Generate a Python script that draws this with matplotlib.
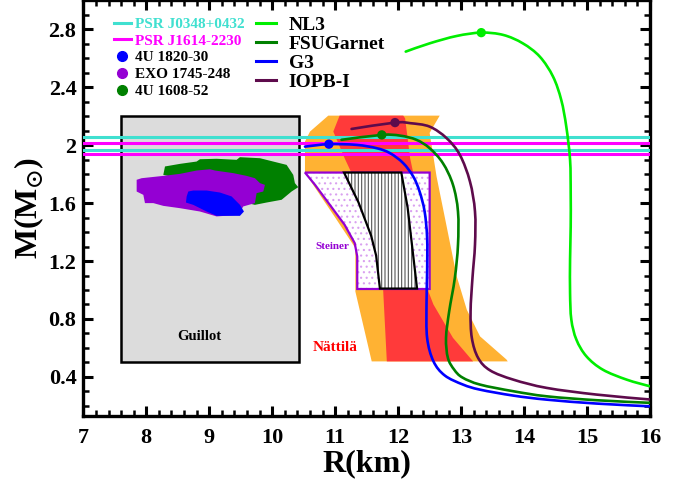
import matplotlib
matplotlib.use('Agg')
import matplotlib.pyplot as plt
from matplotlib.patches import Polygon, Rectangle, PathPatch
from matplotlib.path import Path
from matplotlib.lines import Line2D
from matplotlib.ticker import MultipleLocator, FixedLocator
import numpy as np

plt.rcParams['font.family'] = ['Liberation Serif', 'DejaVu Serif']
plt.rcParams['font.weight'] = 'bold'
plt.rcParams['axes.labelweight'] = 'bold'
plt.rcParams['mathtext.fontset'] = 'stix'
plt.rcParams['hatch.linewidth'] = 0.8

# ---------------- data ----------------
# M-R curves (R in km, M in solar masses)
nl3_R = [12.12, 12.50, 12.93, 13.32, 13.67, 13.98, 14.25, 14.46, 14.59, 14.67, 14.73, 14.74, 14.74,
         14.73, 14.73, 14.75, 14.83, 14.99, 15.25, 15.63, 16.0]
nl3_M = [2.646, 2.703, 2.754, 2.777, 2.761, 2.703, 2.611, 2.473, 2.312, 2.128, 1.899, 1.669, 1.439,
         1.210, 0.979, 0.796, 0.658, 0.542, 0.450, 0.381, 0.335]

fsu_R = [11.10, 11.74, 12.03, 12.29, 12.50, 12.71, 12.87, 12.95, 12.95, 12.90, 12.81, 12.76, 12.79,
         12.89, 13.02, 13.30, 13.83, 14.36, 15.15, 16.0]
fsu_M = [2.037, 2.071, 2.066, 2.037, 1.979, 1.876, 1.727, 1.542, 1.312, 1.083, 0.852, 0.669, 0.531,
         0.450, 0.396, 0.347, 0.301, 0.266, 0.239, 0.221]

g3_R = [10.52, 10.90, 11.34, 11.66, 11.87, 12.08, 12.24, 12.34, 12.42, 12.46, 12.46, 12.45, 12.46,
        12.56, 12.74, 13.03, 13.30, 13.83, 14.36, 15.15, 16.0]
g3_M = [1.990, 2.007, 2.002, 1.979, 1.945, 1.876, 1.783, 1.680, 1.542, 1.359, 1.128, 0.899, 0.669,
        0.508, 0.410, 0.347, 0.312, 0.271, 0.243, 0.216, 0.197]

iopb_R = [11.26, 11.95, 12.19, 12.50, 12.77, 12.98, 13.14, 13.22, 13.22, 13.18, 13.15, 13.17, 13.27,
          13.46, 13.83, 14.36, 15.15, 16.0]
iopb_M = [2.112, 2.156, 2.152, 2.128, 2.048, 1.933, 1.749, 1.542, 1.312, 1.083, 0.852, 0.669, 0.531,
          0.445, 0.381, 0.324, 0.278, 0.244]

eos_names = ['NL3', 'FSUGarnet', 'G3', 'IOPB-I']
eos_colors = ['#00EE00', '#008000', '#0000FF', '#5E0B4C']
max_R = [13.32, 11.74, 10.90, 11.95]
max_M = [2.777, 2.071, 2.007, 2.156]

# pulsar mass constraints (lower, upper)
psr_names = ['PSR J0348+0432', 'PSR J1614-2230']
psr_colors = ['#40E0D0', '#FF00FF']
psr_bounds = [(1.97, 2.055), (1.94, 2.016)]

# Guillot box
guillot_R = (7.6, 10.42)
guillot_M = (0.5, 2.2)

# observational blobs
blob_names = ['4U 1820-30', 'EXO 1745-248', '4U 1608-52']
blob_colors = ['#0000FF', '#9400D3', '#008000']
green_R = [8.270, 8.297, 8.535, 8.799, 8.852, 9.117, 9.434, 9.487, 9.805, 10.016, 10.228, 10.334,
           10.360, 10.413, 10.307, 10.149, 9.910, 9.725, 9.381, 8.852]
green_M = [1.795, 1.853, 1.871, 1.887, 1.903, 1.906, 1.899, 1.917, 1.910, 1.887, 1.864, 1.795,
           1.738, 1.710, 1.680, 1.623, 1.604, 1.588, 1.623, 1.738]
purple_R = [7.847, 7.926, 8.270, 8.535, 8.799, 9.011, 9.090, 9.381, 9.593, 9.725, 9.805, 9.884,
            9.858, 9.752, 9.725, 9.540, 9.461, 9.117, 8.852, 8.535, 8.270, 8.112, 7.979, 7.953, 7.847]
purple_M = [1.761, 1.772, 1.788, 1.802, 1.825, 1.834, 1.825, 1.807, 1.788, 1.772, 1.738, 1.726,
            1.680, 1.669, 1.600, 1.577, 1.519, 1.508, 1.542, 1.565, 1.581, 1.600, 1.600, 1.657, 1.680]
blue_R = [8.667, 8.746, 8.958, 9.170, 9.355, 9.487, 9.551, 9.487, 9.117, 8.958, 8.746, 8.630, 8.641]
blue_M = [1.680, 1.687, 1.687, 1.673, 1.646, 1.588, 1.542, 1.512, 1.512, 1.542, 1.588, 1.604, 1.646]

# Nattila bands
orange_R = [10.89, 12.66, 12.50, 12.61, 12.77, 12.93, 13.09, 13.30, 13.72, 13.74,
            11.58, 11.32, 11.32, 11.00, 10.52, 10.52, 10.60]
orange_M = [2.204, 2.204, 2.085, 1.783, 1.439, 1.094, 0.864, 0.680, 0.520, 0.507,
            0.507, 0.990, 1.290, 1.500, 1.810, 2.025, 2.094]
red_R = [11.07, 12.08, 12.11, 12.19, 12.24, 12.48, 12.56, 12.87, 13.19,
         11.82, 11.76, 11.26, 11.15, 10.97]
red_M = [2.204, 2.204, 2.186, 1.910, 1.807, 0.990, 0.900, 0.670, 0.507,
         0.507, 1.014, 1.807, 1.910, 2.094]

# Steiner region and hatched region
steiner_R = [10.52, 12.50, 12.50, 11.35, 11.35, 11.31, 11.15, 10.68]
steiner_M = [1.811, 1.811, 1.007, 1.007, 1.232, 1.324, 1.450, 1.726]
hatch_R = [11.14, 12.05, 12.15, 12.30, 11.71, 11.65, 11.57, 11.37]
hatch_M = [1.811, 1.811, 1.57, 1.010, 1.010, 1.238, 1.376, 1.605]


def smooth_path(R, M):
    """Bezier path through the read points (Catmull-Rom control points)."""
    P = np.column_stack([R, M]).astype(float)
    verts = [P[0]]
    codes = [Path.MOVETO]
    n = len(P)
    for i in range(n - 1):
        p0 = P[i - 1] if i > 0 else P[i]
        p1, p2 = P[i], P[i + 1]
        p3 = P[i + 2] if i + 2 < n else P[i + 1]
        verts += [p1 + (p2 - p0) / 6.0, p2 - (p3 - p1) / 6.0, p2]
        codes += [Path.CURVE4] * 3
    return Path(verts, codes)


# ---------------- figure ----------------
fig = plt.figure(figsize=(6.95, 4.86), dpi=100)
ax = fig.add_axes([0.1199, 0.1440, 0.8154, 0.8553])

ax.add_patch(Rectangle((guillot_R[0], guillot_M[0]), guillot_R[1] - guillot_R[0],
                       guillot_M[1] - guillot_M[0], facecolor='#DCDCDC', edgecolor='black',
                       lw=1.8, zorder=1))
ax.add_patch(Polygon(np.column_stack([green_R, green_M]), closed=True, facecolor=blob_colors[2],
                     edgecolor='none', zorder=2))
ax.add_patch(Polygon(np.column_stack([purple_R, purple_M]), closed=True, facecolor=blob_colors[1],
                     edgecolor='none', zorder=2.1))
ax.add_patch(Polygon(np.column_stack([blue_R, blue_M]), closed=True, facecolor=blob_colors[0],
                     edgecolor='none', zorder=2.2))

ax.add_patch(Polygon(np.column_stack([orange_R, orange_M]), closed=True, facecolor='#FFB233',
                     edgecolor='none', zorder=3))
ax.add_patch(Polygon(np.column_stack([red_R, red_M]), closed=True, facecolor='#FF3A3A',
                     edgecolor='none', zorder=3.1))

ax.add_patch(Polygon(np.column_stack([steiner_R, steiner_M]), closed=True, facecolor='white',
                     edgecolor='#D9A0F0', hatch='...', lw=0, zorder=4))
ax.add_patch(Polygon(np.column_stack([steiner_R, steiner_M]), closed=True, facecolor='none',
                     edgecolor='#9400D3', lw=1.6, zorder=4.3))
ax.add_patch(Polygon(np.column_stack([hatch_R, hatch_M]), closed=True, facecolor='white',
                     edgecolor='#555555', hatch='|||||', lw=0, zorder=4.5))
ax.add_patch(Polygon(np.column_stack([hatch_R, hatch_M]), closed=True, facecolor='none',
                     edgecolor='black', lw=1.6, zorder=4.6))

for (lo, hi), c in zip(psr_bounds, psr_colors):
    ax.axhline(lo, color=c, lw=2.2, zorder=5)
    ax.axhline(hi, color=c, lw=2.2, zorder=5)

curves = [(nl3_R, nl3_M), (fsu_R, fsu_M), (g3_R, g3_M), (iopb_R, iopb_M)]
for (R, M), c in zip(curves, eos_colors):
    ax.add_patch(PathPatch(smooth_path(R, M), facecolor='none', edgecolor=c, lw=1.9,
                           zorder=6, capstyle='round'))
ax.scatter(max_R, max_M, c=eos_colors, s=45, zorder=7, edgecolors='none')

ax.text(8.84, 0.68, 'Guillot', ha='center', va='center', fontsize=10.5, color='black', zorder=8)
ax.text(10.95, 1.30, 'Steiner', ha='center', va='center', fontsize=8, color='#9400D3', zorder=8)
ax.text(11.0, 0.60, 'Nättilä', ha='center', va='center', fontsize=11, color='#FF0000', zorder=8)

ax.set_xlim(7, 16)
ax.set_ylim(0.13, 3.0)
ax.xaxis.set_major_locator(MultipleLocator(1))
ax.xaxis.set_minor_locator(MultipleLocator(0.2))
yt = [0.4, 0.8, 1.2, 1.6, 2.0, 2.4, 2.8]
ax.yaxis.set_major_locator(FixedLocator(yt))
ax.set_yticklabels(['0.4', '0.8', '1.2', '1.6', '2', '2.4', '2.8'])
ax.yaxis.set_minor_locator(MultipleLocator(0.1))
ax.tick_params(which='both', direction='in', top=True, right=True, width=2.2, labelsize=16)
ax.tick_params(axis='y', which='both', pad=5)
ax.tick_params(axis='x', which='both', pad=8.5)
ax.tick_params(which='major', length=7)
ax.tick_params(which='minor', length=4, width=1.8)
for s in ax.spines.values():
    s.set_linewidth(2.4)
ax.set_xlabel('R(km)', fontsize=23, fontweight='bold')
ax.set_ylabel(r'M(M$_{\odot}$)', fontsize=23, fontweight='bold')
ax.xaxis.set_label_coords(0.5, -0.08)
ax.yaxis.set_label_coords(-0.066, 0.5)

# legends
h1 = [Line2D([], [], color=psr_colors[0], lw=2.2), Line2D([], [], color=psr_colors[1], lw=2.2)]
h1 += [Line2D([], [], ls='none', marker='o', ms=7, color=c) for c in blob_colors]
leg1 = ax.legend(h1, psr_names + blob_names, loc='upper left', bbox_to_anchor=(0.035, 0.985),
                 frameon=False, fontsize=11, handlelength=1.1, handletextpad=0.3,
                 labelspacing=0.2, borderpad=0.2)
for t, c in zip(leg1.get_texts(), psr_colors + ['black'] * 3):
    t.set_color(c)
ax.add_artist(leg1)
h2 = [Line2D([], [], color=c, lw=2.2) for c in eos_colors]
ax.legend(h2, eos_names, loc='upper left', bbox_to_anchor=(0.28, 0.995), frameon=False,
          fontsize=14, handlelength=1.05, handletextpad=0.65, labelspacing=0.07, borderpad=0.2)

fig.savefig('out.png', dpi=100)
